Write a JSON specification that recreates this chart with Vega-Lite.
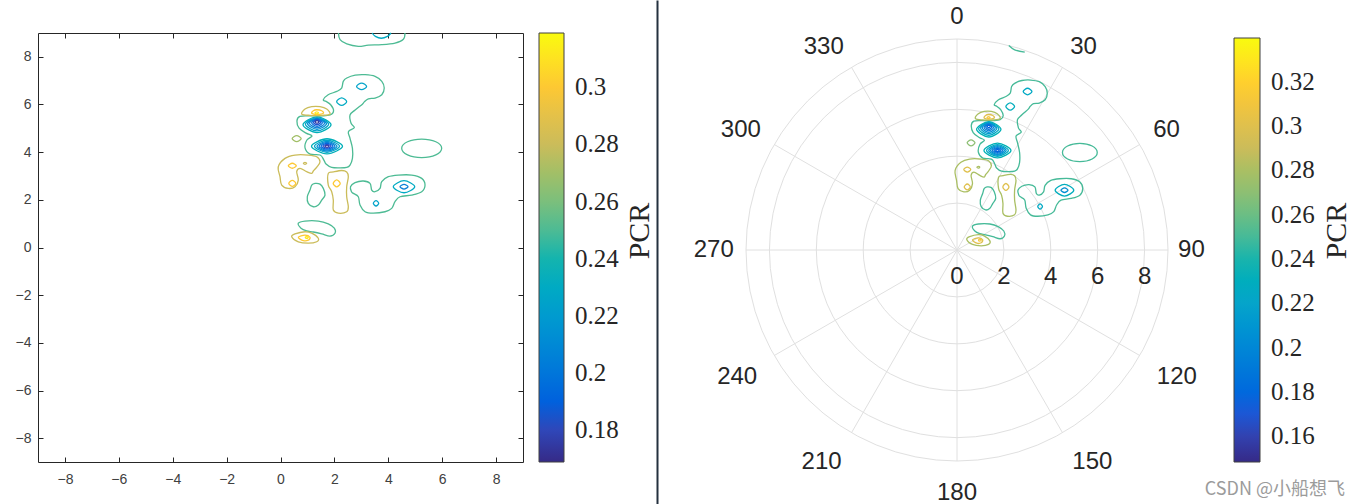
{
  "$schema": "https://vega.github.io/schema/vega-lite/v6.json",
  "background": "white",
  "autosize": {"type": "pad"},
  "padding": {"left": 15, "top": 0, "right": 0, "bottom": 0},
  "config": {"view": {"stroke": null}, "legend": {"gradientVerticalMaxLength": 800, "gradientVerticalMinLength": 50}},
  "title": {"text": "CSDN @小船想飞", "orient": "bottom", "anchor": "end", "frame": "bounds", "offset": -24, "dx": -45, "fontSize": 18, "font": "Noto Sans CJK SC", "fontWeight": "normal", "color": "#9b9b9b"},
  "datasets": {
    "ct": [
      {"id":"g1","lv":0.25,"i":1,"x":1.59,"y":6.2},{"id":"g1","lv":0.25,"i":2,"x":1.77,"y":6.41},{"id":"g1","lv":0.25,"i":3,"x":2.09,"y":6.55},{"id":"g1","lv":0.25,"i":4,"x":2.27,"y":6.69},{"id":"g1","lv":0.25,"i":5,"x":2.33,"y":6.97},{"id":"g1","lv":0.25,"i":6,"x":2.46,"y":7.11},{"id":"g1","lv":0.25,"i":7,"x":2.77,"y":7.23},{"id":"g1","lv":0.25,"i":8,"x":3.14,"y":7.25},{"id":"g1","lv":0.25,"i":9,"x":3.51,"y":7.18},{"id":"g1","lv":0.25,"i":10,"x":3.76,"y":6.97},{"id":"g1","lv":0.25,"i":11,"x":3.85,"y":6.69},{"id":"g1","lv":0.25,"i":12,"x":3.76,"y":6.41},{"id":"g1","lv":0.25,"i":13,"x":3.51,"y":6.27},{"id":"g1","lv":0.25,"i":14,"x":3.26,"y":6.24},{"id":"g1","lv":0.25,"i":15,"x":3.11,"y":6.11},{"id":"g1","lv":0.25,"i":16,"x":3.04,"y":6.01},{"id":"g1","lv":0.25,"i":17,"x":2.77,"y":5.77},{"id":"g1","lv":0.25,"i":18,"x":2.58,"y":5.56},{"id":"g1","lv":0.25,"i":19,"x":2.62,"y":5.21},{"id":"g1","lv":0.25,"i":20,"x":2.74,"y":5.03},{"id":"g1","lv":0.25,"i":21,"x":2.52,"y":4.86},{"id":"g1","lv":0.25,"i":22,"x":2.58,"y":4.58},{"id":"g1","lv":0.25,"i":23,"x":2.67,"y":4.16},{"id":"g1","lv":0.25,"i":24,"x":2.67,"y":3.74},{"id":"g1","lv":0.25,"i":25,"x":2.58,"y":3.46},{"id":"g1","lv":0.25,"i":26,"x":2.46,"y":3.36},{"id":"g1","lv":0.25,"i":27,"x":2.21,"y":3.34},{"id":"g1","lv":0.25,"i":28,"x":1.9,"y":3.36},{"id":"g1","lv":0.25,"i":29,"x":1.69,"y":3.5},{"id":"g1","lv":0.25,"i":30,"x":1.61,"y":3.67},{"id":"g1","lv":0.25,"i":31,"x":1.47,"y":3.88},{"id":"g1","lv":0.25,"i":32,"x":1.1,"y":3.92},{"id":"g1","lv":0.25,"i":33,"x":0.91,"y":4.18},{"id":"g1","lv":0.25,"i":34,"x":0.98,"y":4.51},{"id":"g1","lv":0.25,"i":35,"x":1.17,"y":4.68},{"id":"g1","lv":0.25,"i":36,"x":0.95,"y":4.8},{"id":"g1","lv":0.25,"i":37,"x":0.69,"y":5.01},{"id":"g1","lv":0.25,"i":38,"x":0.61,"y":5.31},{"id":"g1","lv":0.25,"i":39,"x":0.72,"y":5.5},{"id":"g1","lv":0.25,"i":40,"x":1.1,"y":5.52},{"id":"g1","lv":0.25,"i":41,"x":1.54,"y":5.52},{"id":"g1","lv":0.25,"i":42,"x":1.84,"y":5.56},{"id":"g1","lv":0.25,"i":43,"x":1.97,"y":5.73},{"id":"g1","lv":0.25,"i":44,"x":1.87,"y":5.98},{"id":"g1","lv":0.25,"i":45,"x":1.69,"y":6.13},
      {"id":"t1","lv":0.25,"i":1,"x":2.15,"y":9.0},{"id":"t1","lv":0.25,"i":2,"x":2.21,"y":8.72},{"id":"t1","lv":0.25,"i":3,"x":2.46,"y":8.54},{"id":"t1","lv":0.25,"i":4,"x":2.89,"y":8.44},{"id":"t1","lv":0.25,"i":5,"x":3.26,"y":8.49},{"id":"t1","lv":0.25,"i":6,"x":3.76,"y":8.51},{"id":"t1","lv":0.25,"i":7,"x":4.25,"y":8.58},{"id":"t1","lv":0.25,"i":8,"x":4.56,"y":8.74},{"id":"t1","lv":0.25,"i":9,"x":4.62,"y":9.0},
      {"id":"t2","lv":0.23,"i":1,"x":3.4,"y":9.0},{"id":"t2","lv":0.23,"i":2,"x":3.52,"y":8.86},{"id":"t2","lv":0.23,"i":3,"x":3.74,"y":8.78},{"id":"t2","lv":0.23,"i":4,"x":3.97,"y":8.86},{"id":"t2","lv":0.23,"i":5,"x":4.1,"y":9.0},
      {"id":"g2","lv":0.25,"i":1,"x":1.281,"y":2.69},{"id":"g2","lv":0.25,"i":2,"x":1.466,"y":2.66},{"id":"g2","lv":0.25,"i":3,"x":1.589,"y":2.48},{"id":"g2","lv":0.25,"i":4,"x":1.652,"y":2.2},{"id":"g2","lv":0.25,"i":5,"x":1.529,"y":1.99},{"id":"g2","lv":0.25,"i":6,"x":1.403,"y":1.78},{"id":"g2","lv":0.25,"i":7,"x":1.218,"y":1.71},{"id":"g2","lv":0.25,"i":8,"x":1.032,"y":1.85},{"id":"g2","lv":0.25,"i":9,"x":0.995,"y":2.13},{"id":"g2","lv":0.25,"i":10,"x":1.095,"y":2.41},{"id":"g2","lv":0.25,"i":11,"x":1.158,"y":2.62},
      {"id":"g3","lv":0.25,"i":1,"x":2.598,"y":2.55},{"id":"g3","lv":0.25,"i":2,"x":2.765,"y":2.72},{"id":"g3","lv":0.25,"i":3,"x":3.074,"y":2.79},{"id":"g3","lv":0.25,"i":4,"x":3.322,"y":2.69},{"id":"g3","lv":0.25,"i":5,"x":3.385,"y":2.41},{"id":"g3","lv":0.25,"i":6,"x":3.508,"y":2.34},{"id":"g3","lv":0.25,"i":7,"x":3.693,"y":2.48},{"id":"g3","lv":0.25,"i":8,"x":3.757,"y":2.76},{"id":"g3","lv":0.25,"i":9,"x":4.001,"y":2.97},{"id":"g3","lv":0.25,"i":10,"x":4.373,"y":3.04},{"id":"g3","lv":0.25,"i":11,"x":4.87,"y":3.04},{"id":"g3","lv":0.25,"i":12,"x":5.241,"y":2.9},{"id":"g3","lv":0.25,"i":13,"x":5.364,"y":2.62},{"id":"g3","lv":0.25,"i":14,"x":5.241,"y":2.34},{"id":"g3","lv":0.25,"i":15,"x":4.87,"y":2.2},{"id":"g3","lv":0.25,"i":16,"x":4.436,"y":2.13},{"id":"g3","lv":0.25,"i":17,"x":4.25,"y":1.92},{"id":"g3","lv":0.25,"i":18,"x":4.128,"y":1.64},{"id":"g3","lv":0.25,"i":19,"x":3.879,"y":1.5},{"id":"g3","lv":0.25,"i":20,"x":3.445,"y":1.44},{"id":"g3","lv":0.25,"i":21,"x":3.137,"y":1.5},{"id":"g3","lv":0.25,"i":22,"x":2.951,"y":1.78},{"id":"g3","lv":0.25,"i":23,"x":2.888,"y":2.13},{"id":"g3","lv":0.25,"i":24,"x":2.702,"y":2.27},{"id":"g3","lv":0.25,"i":25,"x":2.636,"y":2.34},
      {"id":"g4","lv":0.25,"i":1,"x":0.661,"y":1.02},{"id":"g4","lv":0.25,"i":2,"x":0.909,"y":1.11},{"id":"g4","lv":0.25,"i":3,"x":1.403,"y":1.11},{"id":"g4","lv":0.25,"i":4,"x":1.774,"y":0.99},{"id":"g4","lv":0.25,"i":5,"x":1.997,"y":0.81},{"id":"g4","lv":0.25,"i":6,"x":2.023,"y":0.6},{"id":"g4","lv":0.25,"i":7,"x":1.837,"y":0.48},{"id":"g4","lv":0.25,"i":8,"x":1.529,"y":0.57},{"id":"g4","lv":0.25,"i":9,"x":1.218,"y":0.65},{"id":"g4","lv":0.25,"i":10,"x":0.973,"y":0.7},{"id":"g4","lv":0.25,"i":11,"x":0.761,"y":0.81},
      {"id":"g5","lv":0.25,"i":1,"x":5.982,"y":4.16},{"id":"g5","lv":0.25,"i":2,"x":5.765,"y":4.436},{"id":"g5","lv":0.25,"i":3,"x":5.24,"y":4.55},{"id":"g5","lv":0.25,"i":4,"x":4.715,"y":4.436},{"id":"g5","lv":0.25,"i":5,"x":4.498,"y":4.16},{"id":"g5","lv":0.25,"i":6,"x":4.715,"y":3.884},{"id":"g5","lv":0.25,"i":7,"x":5.24,"y":3.77},{"id":"g5","lv":0.25,"i":8,"x":5.765,"y":3.884},
      {"id":"d1","lv":0.23,"i":1,"x":2.084,"y":6.12},{"id":"d1","lv":0.23,"i":2,"x":2.27,"y":6.275},{"id":"d1","lv":0.23,"i":3,"x":2.456,"y":6.12},{"id":"d1","lv":0.23,"i":4,"x":2.27,"y":5.965},
      {"id":"d2","lv":0.225,"i":1,"x":2.824,"y":6.76},{"id":"d2","lv":0.225,"i":2,"x":3.01,"y":6.9},{"id":"d2","lv":0.225,"i":3,"x":3.196,"y":6.76},{"id":"d2","lv":0.225,"i":4,"x":3.01,"y":6.62},
      {"id":"d3","lv":0.23,"i":1,"x":4.187,"y":2.55},{"id":"d3","lv":0.23,"i":2,"x":4.584,"y":2.802},{"id":"d3","lv":0.23,"i":3,"x":4.981,"y":2.55},{"id":"d3","lv":0.23,"i":4,"x":4.584,"y":2.298},
      {"id":"d4","lv":0.205,"i":1,"x":4.436,"y":2.55},{"id":"d4","lv":0.205,"i":2,"x":4.584,"y":2.647},{"id":"d4","lv":0.205,"i":3,"x":4.732,"y":2.55},{"id":"d4","lv":0.205,"i":4,"x":4.584,"y":2.453},
      {"id":"d5","lv":0.225,"i":1,"x":3.445,"y":1.855},{"id":"d5","lv":0.225,"i":2,"x":3.545,"y":1.968},{"id":"d5","lv":0.225,"i":3,"x":3.645,"y":1.855},{"id":"d5","lv":0.225,"i":4,"x":3.545,"y":1.742},
      {"id":"a1","lv":0.235,"i":1,"x":0.835,"y":5.15},{"id":"a1","lv":0.235,"i":2,"x":1.355,"y":5.48},{"id":"a1","lv":0.235,"i":3,"x":1.875,"y":5.15},{"id":"a1","lv":0.235,"i":4,"x":1.355,"y":4.82},
      {"id":"a2","lv":0.225,"i":1,"x":0.925,"y":5.17},{"id":"a2","lv":0.225,"i":2,"x":1.355,"y":5.45},{"id":"a2","lv":0.225,"i":3,"x":1.785,"y":5.17},{"id":"a2","lv":0.225,"i":4,"x":1.355,"y":4.89},
      {"id":"a3","lv":0.215,"i":1,"x":1.005,"y":5.19},{"id":"a3","lv":0.215,"i":2,"x":1.355,"y":5.42},{"id":"a3","lv":0.215,"i":3,"x":1.705,"y":5.19},{"id":"a3","lv":0.215,"i":4,"x":1.355,"y":4.96},
      {"id":"a4","lv":0.205,"i":1,"x":1.075,"y":5.21},{"id":"a4","lv":0.205,"i":2,"x":1.355,"y":5.4},{"id":"a4","lv":0.205,"i":3,"x":1.635,"y":5.21},{"id":"a4","lv":0.205,"i":4,"x":1.355,"y":5.02},
      {"id":"a5","lv":0.195,"i":1,"x":1.155,"y":5.23},{"id":"a5","lv":0.195,"i":2,"x":1.355,"y":5.375},{"id":"a5","lv":0.195,"i":3,"x":1.555,"y":5.23},{"id":"a5","lv":0.195,"i":4,"x":1.355,"y":5.085},
      {"id":"a6","lv":0.185,"i":1,"x":1.225,"y":5.25},{"id":"a6","lv":0.185,"i":2,"x":1.355,"y":5.35},{"id":"a6","lv":0.185,"i":3,"x":1.485,"y":5.25},{"id":"a6","lv":0.185,"i":4,"x":1.355,"y":5.15},
      {"id":"a7","lv":0.175,"i":1,"x":1.29,"y":5.27},{"id":"a7","lv":0.175,"i":2,"x":1.355,"y":5.32},{"id":"a7","lv":0.175,"i":3,"x":1.42,"y":5.27},{"id":"a7","lv":0.175,"i":4,"x":1.355,"y":5.22},
      {"id":"b1","lv":0.235,"i":1,"x":1.151,"y":4.247},{"id":"b1","lv":0.235,"i":2,"x":1.726,"y":4.562},{"id":"b1","lv":0.235,"i":3,"x":2.301,"y":4.247},{"id":"b1","lv":0.235,"i":4,"x":1.726,"y":3.932},
      {"id":"b2","lv":0.225,"i":1,"x":1.262,"y":4.247},{"id":"b2","lv":0.225,"i":2,"x":1.726,"y":4.499},{"id":"b2","lv":0.225,"i":3,"x":2.19,"y":4.247},{"id":"b2","lv":0.225,"i":4,"x":1.726,"y":3.995},
      {"id":"b3","lv":0.215,"i":1,"x":1.355,"y":4.247},{"id":"b3","lv":0.215,"i":2,"x":1.726,"y":4.453},{"id":"b3","lv":0.215,"i":3,"x":2.097,"y":4.247},{"id":"b3","lv":0.215,"i":4,"x":1.726,"y":4.041},
      {"id":"b4","lv":0.205,"i":1,"x":1.429,"y":4.247},{"id":"b4","lv":0.205,"i":2,"x":1.726,"y":4.411},{"id":"b4","lv":0.205,"i":3,"x":2.023,"y":4.247},{"id":"b4","lv":0.205,"i":4,"x":1.726,"y":4.083},
      {"id":"b5","lv":0.195,"i":1,"x":1.503,"y":4.247},{"id":"b5","lv":0.195,"i":2,"x":1.726,"y":4.369},{"id":"b5","lv":0.195,"i":3,"x":1.949,"y":4.247},{"id":"b5","lv":0.195,"i":4,"x":1.726,"y":4.125},
      {"id":"b6","lv":0.185,"i":1,"x":1.578,"y":4.247},{"id":"b6","lv":0.185,"i":2,"x":1.726,"y":4.331},{"id":"b6","lv":0.185,"i":3,"x":1.874,"y":4.247},{"id":"b6","lv":0.185,"i":4,"x":1.726,"y":4.163},
      {"id":"b7","lv":0.175,"i":1,"x":1.652,"y":4.247},{"id":"b7","lv":0.175,"i":2,"x":1.726,"y":4.293},{"id":"b7","lv":0.175,"i":3,"x":1.8,"y":4.247},{"id":"b7","lv":0.175,"i":4,"x":1.726,"y":4.201},
      {"id":"o1","lv":0.28,"i":1,"x":0.787,"y":5.6},{"id":"o1","lv":0.28,"i":2,"x":0.909,"y":5.81},{"id":"o1","lv":0.28,"i":3,"x":1.158,"y":5.91},{"id":"o1","lv":0.28,"i":4,"x":1.466,"y":5.91},{"id":"o1","lv":0.28,"i":5,"x":1.715,"y":5.81},{"id":"o1","lv":0.28,"i":6,"x":1.837,"y":5.6},{"id":"o1","lv":0.28,"i":7,"x":1.54,"y":5.545},{"id":"o1","lv":0.28,"i":8,"x":1.095,"y":5.545},
      {"id":"o2","lv":0.3,"i":1,"x":1.158,"y":5.63},{"id":"o2","lv":0.3,"i":2,"x":1.218,"y":5.74},{"id":"o2","lv":0.3,"i":3,"x":1.344,"y":5.78},{"id":"o2","lv":0.3,"i":4,"x":1.529,"y":5.74},{"id":"o2","lv":0.3,"i":5,"x":1.589,"y":5.63},{"id":"o2","lv":0.3,"i":6,"x":1.355,"y":5.58},
      {"id":"o3","lv":0.312,"i":1,"x":1.28,"y":5.65},{"id":"o3","lv":0.312,"i":2,"x":1.344,"y":5.69},{"id":"o3","lv":0.312,"i":3,"x":1.41,"y":5.65},{"id":"o3","lv":0.312,"i":4,"x":1.344,"y":5.61},
      {"id":"o4","lv":0.28,"i":1,"x":-0.082,"y":3.39},{"id":"o4","lv":0.28,"i":2,"x":0.167,"y":3.74},{"id":"o4","lv":0.28,"i":3,"x":0.538,"y":3.88},{"id":"o4","lv":0.28,"i":4,"x":1.032,"y":3.88},{"id":"o4","lv":0.28,"i":5,"x":1.344,"y":3.81},{"id":"o4","lv":0.28,"i":6,"x":1.466,"y":3.6},{"id":"o4","lv":0.28,"i":7,"x":1.355,"y":3.38},{"id":"o4","lv":0.28,"i":8,"x":1.218,"y":3.21},{"id":"o4","lv":0.28,"i":9,"x":1.158,"y":3.11},{"id":"o4","lv":0.28,"i":10,"x":0.973,"y":3.18},{"id":"o4","lv":0.28,"i":11,"x":0.724,"y":3.32},{"id":"o4","lv":0.28,"i":12,"x":0.601,"y":3.18},{"id":"o4","lv":0.28,"i":13,"x":0.661,"y":2.83},{"id":"o4","lv":0.28,"i":14,"x":0.538,"y":2.55},{"id":"o4","lv":0.28,"i":15,"x":0.29,"y":2.48},{"id":"o4","lv":0.28,"i":16,"x":0.045,"y":2.62},{"id":"o4","lv":0.28,"i":17,"x":-0.019,"y":2.97},
      {"id":"o5","lv":0.3,"i":1,"x":0.29,"y":3.43},{"id":"o5","lv":0.3,"i":2,"x":0.438,"y":3.535},{"id":"o5","lv":0.3,"i":3,"x":0.586,"y":3.43},{"id":"o5","lv":0.3,"i":4,"x":0.438,"y":3.325},
      {"id":"o6","lv":0.3,"i":1,"x":0.308,"y":2.69},{"id":"o6","lv":0.3,"i":2,"x":0.438,"y":2.816},{"id":"o6","lv":0.3,"i":3,"x":0.568,"y":2.69},{"id":"o6","lv":0.3,"i":4,"x":0.438,"y":2.564},
      {"id":"o7","lv":0.28,"i":1,"x":0.85,"y":3.53},{"id":"o7","lv":0.28,"i":2,"x":0.909,"y":3.57},{"id":"o7","lv":0.28,"i":3,"x":0.97,"y":3.53},{"id":"o7","lv":0.28,"i":4,"x":0.909,"y":3.49},
      {"id":"o8","lv":0.28,"i":1,"x":1.774,"y":3.11},{"id":"o8","lv":0.28,"i":2,"x":1.96,"y":3.17},{"id":"o8","lv":0.28,"i":3,"x":2.272,"y":3.23},{"id":"o8","lv":0.28,"i":4,"x":2.457,"y":3.17},{"id":"o8","lv":0.28,"i":5,"x":2.517,"y":2.97},{"id":"o8","lv":0.28,"i":6,"x":2.457,"y":2.55},{"id":"o8","lv":0.28,"i":7,"x":2.457,"y":2.13},{"id":"o8","lv":0.28,"i":8,"x":2.517,"y":1.71},{"id":"o8","lv":0.28,"i":9,"x":2.457,"y":1.5},{"id":"o8","lv":0.28,"i":10,"x":2.146,"y":1.44},{"id":"o8","lv":0.28,"i":11,"x":1.96,"y":1.57},{"id":"o8","lv":0.28,"i":12,"x":1.96,"y":1.99},{"id":"o8","lv":0.28,"i":13,"x":1.9,"y":2.34},{"id":"o8","lv":0.28,"i":14,"x":1.774,"y":2.62},
      {"id":"o9","lv":0.3,"i":1,"x":1.956,"y":2.69},{"id":"o9","lv":0.3,"i":2,"x":2.086,"y":2.837},{"id":"o9","lv":0.3,"i":3,"x":2.216,"y":2.69},{"id":"o9","lv":0.3,"i":4,"x":2.086,"y":2.543},
      {"id":"o10","lv":0.28,"i":1,"x":0.416,"y":0.45},{"id":"o10","lv":0.28,"i":2,"x":0.538,"y":0.57},{"id":"o10","lv":0.28,"i":3,"x":0.909,"y":0.66},{"id":"o10","lv":0.28,"i":4,"x":1.158,"y":0.6},{"id":"o10","lv":0.28,"i":5,"x":1.403,"y":0.39},{"id":"o10","lv":0.28,"i":6,"x":1.344,"y":0.24},{"id":"o10","lv":0.28,"i":7,"x":1.032,"y":0.18},{"id":"o10","lv":0.28,"i":8,"x":0.661,"y":0.24},
      {"id":"o11","lv":0.3,"i":1,"x":0.661,"y":0.43},{"id":"o11","lv":0.3,"i":2,"x":0.909,"y":0.52},{"id":"o11","lv":0.3,"i":3,"x":1.095,"y":0.43},{"id":"o11","lv":0.3,"i":4,"x":1.032,"y":0.31},{"id":"o11","lv":0.3,"i":5,"x":0.846,"y":0.29},
      {"id":"o12","lv":0.312,"i":1,"x":0.92,"y":0.42},{"id":"o12","lv":0.312,"i":2,"x":0.973,"y":0.46},{"id":"o12","lv":0.312,"i":3,"x":1.03,"y":0.42},{"id":"o12","lv":0.312,"i":4,"x":0.973,"y":0.38},
      {"id":"s1","lv":0.27,"i":1,"x":0.433,"y":4.57},{"id":"s1","lv":0.27,"i":2,"x":0.6,"y":4.696},{"id":"s1","lv":0.27,"i":3,"x":0.767,"y":4.57},{"id":"s1","lv":0.27,"i":4,"x":0.6,"y":4.444}
    ],
    "circ": [{"r":2},{"r":4},{"r":6},{"r":8},{"r":9}],
    "spk": [{"x":0,"y":9,"x2":0,"y2":-9},{"x":4.5,"y":7.794,"x2":-4.5,"y2":-7.794},{"x":7.794,"y":4.5,"x2":-7.794,"y2":-4.5},{"x":9,"y":0,"x2":-9,"y2":0},{"x":7.794,"y":-4.5,"x2":-7.794,"y2":4.5},{"x":4.5,"y":-7.794,"x2":-4.5,"y2":7.794}],
    "ang": [{"a":0,"t":"0"},{"a":30,"t":"30"},{"a":60,"t":"60"},{"a":90,"t":"90"},{"a":120,"t":"120"},{"a":150,"t":"150"},{"a":180,"t":"180"},{"a":210,"t":"210"},{"a":240,"t":"240"},{"a":270,"t":"270"},{"a":300,"t":"300"},{"a":330,"t":"330"}],
    "rl": [{"r":0,"t":"0"},{"r":2,"t":"2"},{"r":4,"t":"4"},{"r":6,"t":"6"},{"r":8,"t":"8"}]
  },
  "bounds": "flush",
  "spacing": 223,
  "resolve": {"scale": {"color": "independent", "x": "independent", "y": "independent"}, "legend": {"color": "independent"}, "axis": {"x": "independent", "y": "independent"}},
  "hconcat": [
    {
      "width": 485, "height": 504,
      "data": {"name": "ct"},
      "layer": [
        {
          "transform": [{"filter": "datum.id != 't1' && datum.id != 't2'"}],
          "mark": {"type": "line", "interpolate": "cardinal-closed", "strokeWidth": 1.3},
          "encoding": {
            "x": {"field": "x", "type": "quantitative", "scale": {"domain": [-9, 9], "nice": false, "zero": false},
                  "axis": {"orient": "bottom", "offset": -42, "title": null, "grid": false, "values": [-8,-6,-4,-2,0,2,4,6,8], "tickSize": -5, "labelPadding": 15, "labelFont": "Liberation Sans", "labelFontSize": 14, "labelColor": "#404040", "tickColor": "#262626", "domainColor": "#262626", "labelFlush": false}},
            "y": {"field": "y", "type": "quantitative", "scale": {"domain": [-9, 9], "range": [462, 33], "nice": false, "zero": false},
                  "axis": {"orient": "left", "title": null, "grid": false, "values": [-8,-6,-4,-2,0,2,4,6,8], "tickSize": -5, "labelPadding": 12, "labelFont": "Liberation Sans", "labelFontSize": 14, "labelColor": "#404040", "tickColor": "#262626", "domainColor": "#262626", "labelFlush": false}},
            "color": {"field": "lv", "type": "quantitative",
                      "scale": {"type": "linear", "domain": [0.1688, 0.1876, 0.2064, 0.2251, 0.2439, 0.2627, 0.2815, 0.3003, 0.319], "range": ["#352a87", "#0f5cdd", "#1481d6", "#06a4ca", "#2eb7a4", "#87bf77", "#d1bb59", "#fec832", "#f9fb0e"], "zero": false, "nice": false},
                      "legend": {"title": "PCR", "orient": "right", "offset": -18, "padding": 33, "type": "gradient", "direction": "vertical", "gradientLength": 429, "gradientThickness": 25, "gradientStrokeColor": "#404040", "gradientStrokeWidth": 1, "values": [0.18, 0.2, 0.22, 0.24, 0.26, 0.28, 0.3], "format": ".2~f", "labelFont": "Liberation Serif", "labelFontSize": 25, "labelColor": "#262626", "labelOffset": 11, "titleOrient": "right", "titleBaseline": "bottom", "titleFont": "Liberation Serif", "titleFontSize": 30, "titleFontWeight": "normal", "titleColor": "#262626", "titleAnchor": "middle", "titlePadding": 6, "encode": {"title": {"update": {"angle": {"value": 270}, "dy": {"value": 30}}}}}},
            "detail": {"field": "id"},
            "order": {"field": "i", "type": "quantitative"}
          }
        },
        {
          "transform": [{"filter": "datum.id == 't1' || datum.id == 't2'"}],
          "mark": {"type": "line", "interpolate": "cardinal", "strokeWidth": 1.3},
          "encoding": {
            "x": {"field": "x", "type": "quantitative", "axis": {"orient": "top", "offset": -33, "title": null, "grid": false, "labels": false, "values": [-8,-6,-4,-2,0,2,4,6,8], "tickSize": -5, "tickColor": "#262626", "domainColor": "#262626"}},
            "y": {"field": "y", "type": "quantitative", "axis": {"orient": "right", "title": null, "grid": false, "labels": false, "values": [-8,-6,-4,-2,0,2,4,6,8], "tickSize": -5, "tickColor": "#262626", "domainColor": "#262626"}},
            "color": {"field": "lv", "type": "quantitative",
                      "legend": {"title": "PCR", "orient": "right", "offset": -18, "padding": 33, "type": "gradient", "direction": "vertical", "gradientLength": 429, "gradientThickness": 25, "gradientStrokeColor": "#404040", "gradientStrokeWidth": 1, "values": [0.18, 0.2, 0.22, 0.24, 0.26, 0.28, 0.3], "format": ".2~f", "labelFont": "Liberation Serif", "labelFontSize": 25, "labelColor": "#262626", "labelOffset": 11, "titleOrient": "right", "titleBaseline": "bottom", "titleFont": "Liberation Serif", "titleFontSize": 30, "titleFontWeight": "normal", "titleColor": "#262626", "titleAnchor": "middle", "titlePadding": 6, "encode": {"title": {"update": {"angle": {"value": 270}, "dy": {"value": 30}}}}}},
            "detail": {"field": "id"},
            "order": {"field": "i", "type": "quantitative"}
          }
        }
      ],
      "resolve": {"axis": {"x": "independent", "y": "independent"}}
    },
    {
      "width": 422, "height": 504,
      "layer": [
        {
          "data": {"name": "circ"},
          "mark": {"type": "point", "shape": "circle", "filled": false, "stroke": "#e0e0e0", "strokeWidth": 1, "opacity": 1},
          "encoding": {
            "x": {"datum": 0, "type": "quantitative", "axis": null},
            "y": {"datum": 0, "type": "quantitative", "axis": {"orient": "left", "offset": 89, "domain": true, "domainColor": "#24313f", "domainWidth": 2, "ticks": false, "labels": false, "grid": false, "title": null}},
            "size": {"field": "r", "type": "quantitative", "scale": {"type": "pow", "exponent": 2, "domain": [0, 9], "range": [0, 178084], "zero": true}, "legend": null}
          }
        },
        {
          "data": {"name": "spk"},
          "mark": {"type": "rule", "stroke": "#e0e0e0", "strokeWidth": 1},
          "encoding": {
            "x": {"field": "x", "type": "quantitative", "scale": {"domain": [-9, 9], "nice": false, "zero": false}, "axis": null},
            "y": {"field": "y", "type": "quantitative", "scale": {"domain": [-10.834, 10.664], "nice": false, "zero": false},
                  "axis": {"orient": "left", "offset": 89, "domain": true, "domainColor": "#24313f", "domainWidth": 2, "ticks": false, "labels": false, "grid": false, "title": null}},
            "x2": {"field": "x2"},
            "y2": {"field": "y2"}
          }
        },
        {
          "data": {"name": "ct"},
          "transform": [{"filter": "datum.id != 't1' && datum.id != 't2' && datum.x*datum.x + datum.y*datum.y <= 81"}],
          "mark": {"type": "line", "interpolate": "cardinal-closed", "strokeWidth": 1.3},
          "encoding": {
            "x": {"field": "x", "type": "quantitative", "axis": null},
            "y": {"field": "y", "type": "quantitative", "axis": {"orient": "left", "offset": 89, "domain": true, "domainColor": "#24313f", "domainWidth": 2, "ticks": false, "labels": false, "grid": false, "title": null}},
            "color": {"field": "lv", "type": "quantitative",
                      "scale": {"type": "linear", "domain": [0.1483, 0.1722, 0.1962, 0.2201, 0.2441, 0.268, 0.2919, 0.3159, 0.3398], "range": ["#352a87", "#0f5cdd", "#1481d6", "#06a4ca", "#2eb7a4", "#87bf77", "#d1bb59", "#fec832", "#f9fb0e"], "zero": false, "nice": false},
                      "legend": {"title": "PCR", "orient": "right", "offset": 28, "padding": 38, "type": "gradient", "direction": "vertical", "gradientLength": 424, "gradientThickness": 26, "gradientStrokeColor": "#404040", "gradientStrokeWidth": 1, "values": [0.16, 0.18, 0.2, 0.22, 0.24, 0.26, 0.28, 0.3, 0.32], "format": ".2~f", "labelFont": "Liberation Serif", "labelFontSize": 25, "labelColor": "#262626", "labelOffset": 11, "titleOrient": "right", "titleBaseline": "bottom", "titleFont": "Liberation Serif", "titleFontSize": 30, "titleFontWeight": "normal", "titleColor": "#262626", "titleAnchor": "middle", "titlePadding": 6, "encode": {"title": {"update": {"angle": {"value": 270}, "dy": {"value": 31}}}}}},
            "detail": {"field": "id"},
            "order": {"field": "i", "type": "quantitative"}
          }
        },
        {
          "data": {"name": "ct"},
          "transform": [{"filter": "datum.id == 't1' && datum.x*datum.x + datum.y*datum.y <= 81"}],
          "mark": {"type": "line", "interpolate": "cardinal", "strokeWidth": 1.3},
          "encoding": {
            "x": {"field": "x", "type": "quantitative", "axis": null},
            "y": {"field": "y", "type": "quantitative", "axis": {"orient": "left", "offset": 89, "domain": true, "domainColor": "#24313f", "domainWidth": 2, "ticks": false, "labels": false, "grid": false, "title": null}},
            "color": {"field": "lv", "type": "quantitative",
                      "legend": {"title": "PCR", "orient": "right", "offset": 28, "padding": 38, "type": "gradient", "direction": "vertical", "gradientLength": 424, "gradientThickness": 26, "gradientStrokeColor": "#404040", "gradientStrokeWidth": 1, "values": [0.16, 0.18, 0.2, 0.22, 0.24, 0.26, 0.28, 0.3, 0.32], "format": ".2~f", "labelFont": "Liberation Serif", "labelFontSize": 25, "labelColor": "#262626", "labelOffset": 11, "titleOrient": "right", "titleBaseline": "bottom", "titleFont": "Liberation Serif", "titleFontSize": 30, "titleFontWeight": "normal", "titleColor": "#262626", "titleAnchor": "middle", "titlePadding": 6, "encode": {"title": {"update": {"angle": {"value": 270}, "dy": {"value": 31}}}}}},
            "detail": {"field": "id"},
            "order": {"field": "i", "type": "quantitative"}
          }
        },
        {
          "data": {"name": "ang"},
          "transform": [{"filter": "datum.a > 270"}],
          "mark": {"type": "text", "font": "Liberation Sans", "fontSize": 24, "fill": "#262626", "align": "right", "baseline": "alphabetic"},
          "encoding": {
            "x": {"datum": 0, "type": "quantitative", "axis": null},
            "y": {"datum": 0, "type": "quantitative", "axis": {"orient": "left", "offset": 89, "domain": true, "domainColor": "#24313f", "domainWidth": 2, "ticks": false, "labels": false, "grid": false, "title": null}},
            "theta": {"field": "a", "type": "quantitative", "stack": null, "scale": {"type": "linear", "domain": [0, 360], "range": [0, 6.283185], "zero": true}},
            "radius": {"datum": 9.66, "scale": {"type": "linear", "domain": [0, 9], "range": [0, 211], "zero": true}},
            "text": {"field": "t"}
          }
        },
        {
          "data": {"name": "ang"},
          "transform": [{"filter": "datum.a == 270"}],
          "mark": {"type": "text", "font": "Liberation Sans", "fontSize": 24, "fill": "#262626", "align": "right", "baseline": "middle"},
          "encoding": {
            "x": {"datum": 0, "type": "quantitative", "axis": null},
            "y": {"datum": 0, "type": "quantitative", "axis": {"orient": "left", "offset": 89, "domain": true, "domainColor": "#24313f", "domainWidth": 2, "ticks": false, "labels": false, "grid": false, "title": null}},
            "theta": {"field": "a", "type": "quantitative", "stack": null},
            "radius": {"datum": 9.52},
            "text": {"field": "t"}
          }
        },
        {
          "data": {"name": "ang"},
          "transform": [{"filter": "datum.a > 180 && datum.a < 270"}],
          "mark": {"type": "text", "font": "Liberation Sans", "fontSize": 24, "fill": "#262626", "align": "right", "baseline": "top"},
          "encoding": {
            "x": {"datum": 0, "type": "quantitative", "axis": null},
            "y": {"datum": 0, "type": "quantitative", "axis": {"orient": "left", "offset": 89, "domain": true, "domainColor": "#24313f", "domainWidth": 2, "ticks": false, "labels": false, "grid": false, "title": null}},
            "theta": {"field": "a", "type": "quantitative", "stack": null},
            "radius": {"datum": 9.84},
            "text": {"field": "t"}
          }
        },
        {
          "data": {"name": "ang"},
          "transform": [{"filter": "datum.a == 0"}],
          "mark": {"type": "text", "font": "Liberation Sans", "fontSize": 24, "fill": "#262626", "align": "center", "baseline": "alphabetic"},
          "encoding": {
            "x": {"datum": 0, "type": "quantitative", "axis": null},
            "y": {"datum": 0, "type": "quantitative", "axis": {"orient": "left", "offset": 89, "domain": true, "domainColor": "#24313f", "domainWidth": 2, "ticks": false, "labels": false, "grid": false, "title": null}},
            "theta": {"field": "a", "type": "quantitative", "stack": null},
            "radius": {"datum": 9.66},
            "text": {"field": "t"}
          }
        },
        {
          "data": {"name": "ang"},
          "transform": [{"filter": "datum.a == 180"}],
          "mark": {"type": "text", "font": "Liberation Sans", "fontSize": 24, "fill": "#262626", "align": "center", "baseline": "top"},
          "encoding": {
            "x": {"datum": 0, "type": "quantitative", "axis": null},
            "y": {"datum": 0, "type": "quantitative", "axis": {"orient": "left", "offset": 89, "domain": true, "domainColor": "#24313f", "domainWidth": 2, "ticks": false, "labels": false, "grid": false, "title": null}},
            "theta": {"field": "a", "type": "quantitative", "stack": null},
            "radius": {"datum": 9.84},
            "text": {"field": "t"}
          }
        },
        {
          "data": {"name": "ang"},
          "transform": [{"filter": "datum.a > 90 && datum.a < 180"}],
          "mark": {"type": "text", "font": "Liberation Sans", "fontSize": 24, "fill": "#262626", "align": "left", "baseline": "top"},
          "encoding": {
            "x": {"datum": 0, "type": "quantitative", "axis": null},
            "y": {"datum": 0, "type": "quantitative", "axis": {"orient": "left", "offset": 89, "domain": true, "domainColor": "#24313f", "domainWidth": 2, "ticks": false, "labels": false, "grid": false, "title": null}},
            "theta": {"field": "a", "type": "quantitative", "stack": null},
            "radius": {"datum": 9.84},
            "text": {"field": "t"}
          }
        },
        {
          "data": {"name": "ang"},
          "transform": [{"filter": "datum.a == 90"}],
          "mark": {"type": "text", "font": "Liberation Sans", "fontSize": 24, "fill": "#262626", "align": "left", "baseline": "middle"},
          "encoding": {
            "x": {"datum": 0, "type": "quantitative", "axis": null},
            "y": {"datum": 0, "type": "quantitative", "axis": {"orient": "left", "offset": 89, "domain": true, "domainColor": "#24313f", "domainWidth": 2, "ticks": false, "labels": false, "grid": false, "title": null}},
            "theta": {"field": "a", "type": "quantitative", "stack": null},
            "radius": {"datum": 9.43},
            "text": {"field": "t"}
          }
        },
        {
          "data": {"name": "ang"},
          "transform": [{"filter": "datum.a > 0 && datum.a < 90"}],
          "mark": {"type": "text", "font": "Liberation Sans", "fontSize": 24, "fill": "#262626", "align": "left", "baseline": "alphabetic"},
          "encoding": {
            "x": {"datum": 0, "type": "quantitative", "axis": null},
            "y": {"datum": 0, "type": "quantitative", "axis": {"orient": "left", "offset": 89, "domain": true, "domainColor": "#24313f", "domainWidth": 2, "ticks": false, "labels": false, "grid": false, "title": null}},
            "theta": {"field": "a", "type": "quantitative", "stack": null},
            "radius": {"datum": 9.66},
            "text": {"field": "t"}
          }
        },
        {
          "data": {"name": "rl"},
          "mark": {"type": "text", "font": "Liberation Sans", "fontSize": 24, "fill": "#262626", "align": "center", "baseline": "middle", "dy": 27},
          "encoding": {
            "x": {"datum": 0, "type": "quantitative", "axis": null},
            "y": {"datum": 0, "type": "quantitative", "axis": {"orient": "left", "offset": 89, "domain": true, "domainColor": "#24313f", "domainWidth": 2, "ticks": false, "labels": false, "grid": false, "title": null}},
            "theta": {"datum": 90},
            "radius": {"field": "r", "type": "quantitative"},
            "text": {"field": "t"}
          }
        }
      ]
    }
  ]
}
